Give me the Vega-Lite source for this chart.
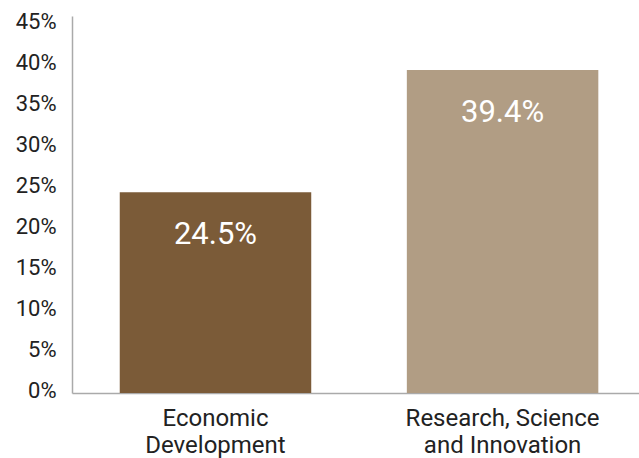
{
  "$schema": "https://vega.github.io/schema/vega-lite/v6.json",
  "width": 567,
  "height": 377,
  "autosize": {"type": "none"},
  "padding": {"left": 72, "top": 16, "right": 0, "bottom": 65},
  "config": {
    "view": {"stroke": null},
    "font": "Roboto",
    "axis": {"labelFont": "Roboto", "labelColor": "#222222", "domainColor": "#aaaaaa", "domainWidth": 1.5}
  },
  "data": {
    "values": [
      {"category": "Economic Development", "share": 0.245},
      {"category": "Research, Science and Innovation", "share": 0.394}
    ]
  },
  "encoding": {
    "x": {
      "field": "category",
      "type": "nominal",
      "sort": null,
      "scale": {"paddingInner": 0.333, "paddingOuter": 0.154, "align": 0.54},
      "axis": {
        "title": null,
        "labelAngle": 0,
        "ticks": false,
        "labelFontSize": 24,
        "labelLineHeight": 27,
        "labelPadding": 13,
        "labelLimit": 400,
        "labelExpr": "datum.value == 'Economic Development' ? ['Economic', 'Development'] : ['Research, Science', 'and Innovation']"
      }
    },
    "y": {
      "field": "share",
      "type": "quantitative",
      "scale": {"domain": [0, 0.46], "nice": false},
      "axis": {
        "title": null,
        "format": ".0%",
        "values": [0, 0.05, 0.1, 0.15, 0.2, 0.25, 0.3, 0.35, 0.4, 0.45],
        "grid": false,
        "ticks": false,
        "labelFontSize": 22,
        "labelPadding": 16,
        "labelOffset": -3
      }
    }
  },
  "layer": [
    {
      "mark": {"type": "bar"},
      "encoding": {
        "color": {
          "field": "category",
          "type": "nominal",
          "scale": {"range": ["#7b5b38", "#b19d84"]},
          "legend": null
        }
      }
    },
    {
      "mark": {"type": "text", "color": "white", "fontSize": 31, "baseline": "middle", "dy": 43, "font": "Roboto"},
      "encoding": {
        "text": {"field": "share", "type": "quantitative", "format": ".1%"}
      }
    }
  ]
}
